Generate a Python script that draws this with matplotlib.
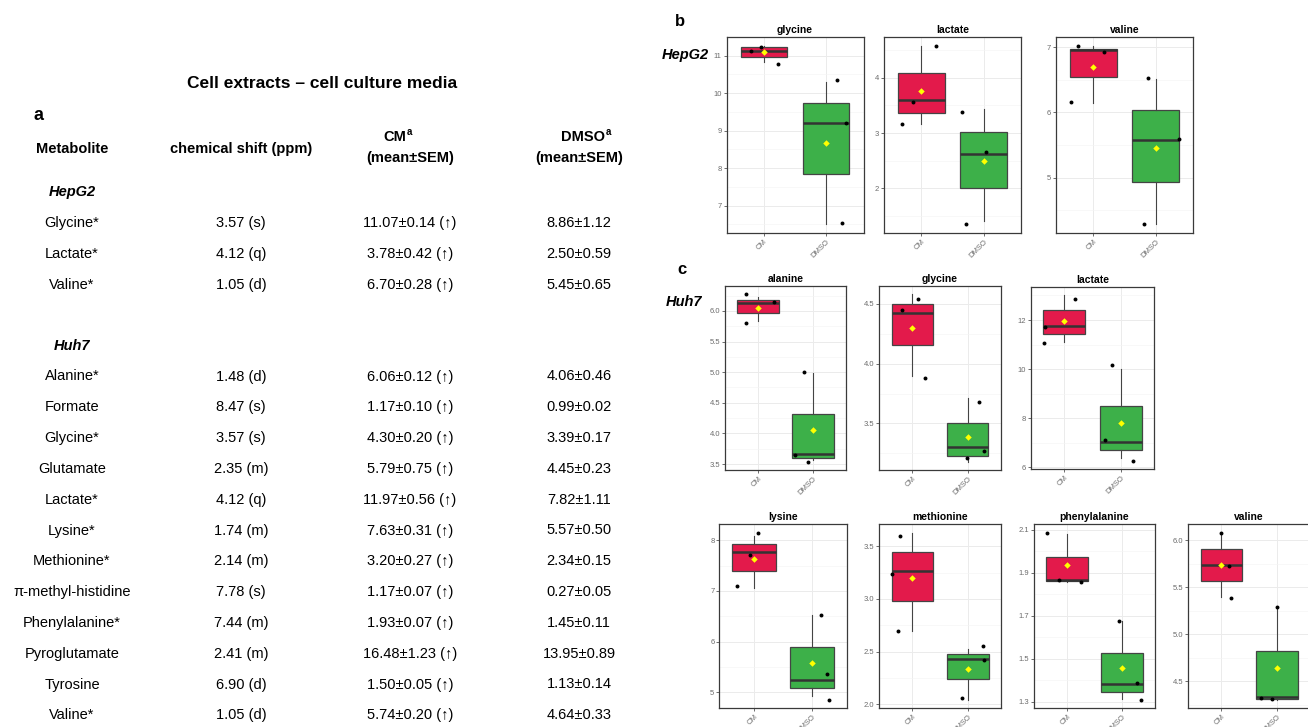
import matplotlib
matplotlib.use('Agg')
import matplotlib.pyplot as plt
from matplotlib.ticker import FixedLocator
import numpy as np

plt.rcParams['font.family'] = ['Liberation Sans', 'DejaVu Sans']

W, H = 1308, 727

# ---------------- table (a) ----------------
hepg2_names = ['Glycine*', 'Lactate*', 'Valine*']
hepg2_shift = ['3.57 (s)', '4.12 (q)', '1.05 (d)']
hepg2_cm_mean = [11.07, 3.78, 6.70]
hepg2_cm_sem = [0.14, 0.42, 0.28]
hepg2_dmso_mean = [8.86, 2.50, 5.45]
hepg2_dmso_sem = [1.12, 0.59, 0.65]

huh7_names = ['Alanine*', 'Formate', 'Glycine*', 'Glutamate', 'Lactate*', 'Lysine*',
              'Methionine*', 'π-methyl-histidine', 'Phenylalanine*', 'Pyroglutamate',
              'Tyrosine', 'Valine*']
huh7_shift = ['1.48 (d)', '8.47 (s)', '3.57 (s)', '2.35 (m)', '4.12 (q)', '1.74 (m)',
              '2.14 (m)', '7.78 (s)', '7.44 (m)', '2.41 (m)', '6.90 (d)', '1.05 (d)']
huh7_cm_mean = [6.06, 1.17, 4.30, 5.79, 11.97, 7.63, 3.20, 1.17, 1.93, 16.48, 1.50, 5.74]
huh7_cm_sem = [0.12, 0.10, 0.20, 0.75, 0.56, 0.31, 0.27, 0.07, 0.07, 1.23, 0.05, 0.20]
huh7_dmso_mean = [4.06, 0.99, 3.39, 4.45, 7.82, 5.57, 2.34, 0.27, 1.45, 13.95, 1.13, 4.64]
huh7_dmso_sem = [0.46, 0.02, 0.17, 0.23, 1.11, 0.50, 0.15, 0.05, 0.11, 0.89, 0.14, 0.33]

# ---------------- box plots (b: HepG2, c: Huh7) ----------------
panel_titles = ['glycine', 'lactate', 'valine',
                'alanine', 'glycine', 'lactate',
                'lysine', 'methionine', 'phenylalanine', 'valine']

cm_q1 = [10.96, 3.37, 6.55, 5.97, 4.16, 11.43, 7.40, 2.98, 1.861, 5.57]
cm_med = [11.12, 3.60, 6.95, 6.13, 4.42, 11.74, 7.76, 3.27, 1.865, 5.74]
cm_q3 = [11.22, 4.09, 6.98, 6.18, 4.50, 12.40, 7.93, 3.45, 1.972, 5.91]
cm_lo = [10.82, 3.16, 6.15, 5.83, 3.90, 11.12, 7.05, 2.70, 1.858, 5.40]
cm_hi = [11.26, 4.58, 7.02, 6.23, 4.58, 13.02, 8.09, 3.63, 2.081, 6.07]
cm_avg = [11.09, 3.77, 6.70, 6.05, 4.30, 11.97, 7.63, 3.20, 1.935, 5.74]
cm_pts = [[11.13, 11.24, 10.78], [3.16, 3.56, 4.58], [6.16, 7.02, 6.93],
          [6.27, 6.14, 5.80], [4.45, 4.54, 3.88], [11.73, 12.85, 11.07],
          [7.10, 7.71, 8.15], [3.60, 3.24, 2.70], [2.087, 1.868, 1.857],
          [6.08, 5.73, 5.39]]
cm_jit = [[-0.20, -0.05, 0.22], [-0.31, -0.13, 0.23], [-0.36, -0.24, 0.17],
          [-0.21, 0.29, -0.21], [-0.19, 0.10, 0.22], [-0.34, 0.18, -0.36],
          [-0.30, -0.07, 0.07], [-0.22, -0.37, -0.27], [-0.36, -0.15, 0.25],
          [0.00, 0.13, 0.18]]

dmso_q1 = [7.84, 2.01, 4.93, 3.60, 3.23, 6.72, 5.08, 2.24, 1.347, 4.31]
dmso_med = [9.20, 2.62, 5.58, 3.67, 3.30, 7.05, 5.24, 2.43, 1.383, 4.33]
dmso_q3 = [9.74, 3.02, 6.04, 4.32, 3.50, 8.50, 5.89, 2.48, 1.528, 4.82]
dmso_lo = [6.51, 1.41, 4.29, 3.56, 3.18, 6.40, 4.92, 2.04, 1.313, 4.30]
dmso_hi = [10.29, 3.44, 6.51, 4.98, 3.71, 9.99, 6.52, 2.52, 1.676, 5.29]
dmso_avg = [8.67, 2.49, 5.46, 4.06, 3.39, 7.82, 5.57, 2.33, 1.456, 4.64]
dmso_pts = [[10.36, 9.20, 6.53], [3.38, 2.66, 1.35], [6.53, 5.59, 4.29],
            [5.01, 3.65, 3.54], [3.68, 3.21, 3.27], [10.15, 7.11, 6.26],
            [6.52, 5.36, 4.85], [2.55, 2.42, 2.06], [1.674, 1.386, 1.308],
            [5.29, 4.32, 4.31]]
dmso_jit = [[0.17, 0.32, 0.26], [-0.35, 0.04, -0.28], [-0.13, 0.37, -0.19],
            [-0.16, -0.32, -0.09], [0.20, -0.01, 0.30], [-0.15, -0.28, 0.22],
            [0.16, 0.26, 0.29], [0.28, 0.30, -0.10], [-0.05, 0.27, 0.35],
            [0.00, -0.29, -0.09]]

panel_ticks = [[7, 8, 9, 10, 11], [2, 3, 4], [5, 6, 7],
               [3.5, 4.0, 4.5, 5.0, 5.5, 6.0], [3.5, 4.0, 4.5], [6, 8, 10, 12],
               [5, 6, 7, 8], [2.0, 2.5, 3.0, 3.5], [1.3, 1.5, 1.7, 1.9, 2.1],
               [4.5, 5.0, 5.5, 6.0]]
group_labels = ['CM', 'DMSO']

# panel rectangles in pixels: left, top, right, bottom
panel_px = [(726.5, 37, 863.5, 233), (884, 37, 1021, 233), (1056, 37, 1193, 233),
            (725, 286, 846, 470), (879.3, 286, 1000.7, 470), (1030.7, 286.7, 1154.3, 469.3),
            (719.3, 524.3, 846.7, 708.3), (879.3, 524.3, 1001, 708.3),
            (1034, 524.3, 1155, 708.3), (1188.3, 524.3, 1310, 708.3)]

RED = '#E31A4B'
GREEN = '#3DB049'
EDGE = '#333333'


def px_rect(l, t, r, b):
    return [l / W, 1 - b / H, (r - l) / W, (b - t) / H]


fig = plt.figure(figsize=(W / 100, H / 100), dpi=100)
fig.patch.set_facecolor('white')

# full-figure overlay in pixel coordinates for the table and labels
tx = fig.add_axes([0, 0, 1, 1])
tx.set_xlim(0, W)
tx.set_ylim(H, 0)
tx.axis('off')

tx.text(322, 83, 'Cell extracts – cell culture media', fontsize=12.5,
        fontweight='bold', ha='center', va='center')
tx.text(34, 116, 'a', fontsize=13, fontweight='bold', ha='left', va='center')

col_x = [72, 241, 410, 579]
hdr = dict(fontsize=10.5, fontweight='bold', ha='center', va='center')
tx.text(col_x[0], 149, 'Metabolite', **hdr)
tx.text(col_x[1], 149, 'chemical shift (ppm)', **hdr)
tx.text(406, 137, 'CM', fontsize=10.5, fontweight='bold', ha='right', va='center')
tx.text(407, 132, 'a', fontsize=7, fontweight='bold', ha='left', va='center')
tx.text(col_x[2], 158, '(mean±SEM)', **hdr)
tx.text(605, 137, 'DMSO', fontsize=10.5, fontweight='bold', ha='right', va='center')
tx.text(606, 132, 'a', fontsize=7, fontweight='bold', ha='left', va='center')
tx.text(col_x[3], 158, '(mean±SEM)', **hdr)

cell = dict(fontsize=10.5, ha='center', va='center')


def table_block(y0, title, names, shifts, cm_m, cm_s, dm_m, dm_s):
    tx.text(col_x[0], y0, title, fontsize=10.5, fontweight='bold',
            fontstyle='italic', ha='center', va='center')
    for k in range(len(names)):
        y = y0 + 31 + k * 30.8
        tx.text(col_x[0], y, names[k], **cell)
        tx.text(col_x[1], y, shifts[k], **cell)
        tx.text(col_x[2], y, f'{cm_m[k]:.2f}±{cm_s[k]:.2f} (↑)', **cell)
        tx.text(col_x[3], y, f'{dm_m[k]:.2f}±{dm_s[k]:.2f}', **cell)


table_block(192, 'HepG2', hepg2_names, hepg2_shift, hepg2_cm_mean, hepg2_cm_sem,
            hepg2_dmso_mean, hepg2_dmso_sem)
table_block(345.5, 'Huh7', huh7_names, huh7_shift, huh7_cm_mean, huh7_cm_sem,
            huh7_dmso_mean, huh7_dmso_sem)

tx.text(680, 21, 'b', fontsize=12, fontweight='bold', ha='center', va='center')
tx.text(682, 270, 'c', fontsize=12, fontweight='bold', ha='center', va='center')
tx.text(685, 55, 'HepG2', fontsize=10.5, fontweight='bold', fontstyle='italic',
        ha='center', va='center')
tx.text(684, 302, 'Huh7', fontsize=10.5, fontweight='bold', fontstyle='italic',
        ha='center', va='center')


def draw_panel(ax, i):
    stats = [dict(med=cm_med[i], q1=cm_q1[i], q3=cm_q3[i],
                  whislo=cm_lo[i], whishi=cm_hi[i], fliers=[]),
             dict(med=dmso_med[i], q1=dmso_q1[i], q3=dmso_q3[i],
                  whislo=dmso_lo[i], whishi=dmso_hi[i], fliers=[])]
    bp = ax.bxp(stats, positions=[1, 2], widths=0.75, patch_artist=True,
                showcaps=False,
                boxprops=dict(edgecolor='#444444', linewidth=0.9),
                medianprops=dict(color=EDGE, linewidth=1.8),
                whiskerprops=dict(color='#444444', linewidth=0.8))
    for patch, c in zip(bp['boxes'], [RED, GREEN]):
        patch.set_facecolor(c)

    ax.scatter(1 + np.array(cm_jit[i]), cm_pts[i], s=8, color='black',
               linewidths=0, zorder=4)
    ax.scatter(2 + np.array(dmso_jit[i]), dmso_pts[i], s=8, color='black',
               linewidths=0, zorder=4)
    ax.scatter([1, 2], [cm_avg[i], dmso_avg[i]], marker='D', s=11,
               color='#FFFF00', linewidths=0, zorder=5)

    # y range: data extent with 5 % padding
    vals = cm_pts[i] + dmso_pts[i] + [cm_lo[i], cm_hi[i], dmso_lo[i], dmso_hi[i]]
    lo, hi = min(vals), max(vals)
    pad = (hi - lo) * 0.05
    ax.set_ylim(lo - pad, hi + pad)
    ax.set_xlim(0.4, 2.6)

    ticks = panel_ticks[i]
    step = ticks[1] - ticks[0]
    minors = [t - step / 2 for t in ticks] + [ticks[-1] + step / 2]
    ax.yaxis.set_major_locator(FixedLocator(ticks))
    ax.yaxis.set_minor_locator(FixedLocator(minors))
    if all(float(t).is_integer() for t in ticks):
        ax.set_yticklabels([f'{t:.0f}' for t in ticks])
    else:
        ax.set_yticklabels([f'{t:.1f}' for t in ticks])
    ax.set_xticks([1, 2])
    ax.set_xticklabels(group_labels, rotation=45, ha='right', rotation_mode='anchor')

    ax.set_axisbelow(True)
    ax.grid(which='major', color='#EBEBEB', linewidth=0.7)
    ax.grid(which='minor', axis='y', color='#F4F4F4', linewidth=0.4)
    ax.tick_params(which='major', length=2, width=0.5, color=EDGE,
                   labelsize=5.5, labelcolor='#6b6b6b', pad=1.5)
    ax.tick_params(which='minor', length=0)
    for sp in ax.spines.values():
        sp.set_color('#3a3a3a')
        sp.set_linewidth(0.9)
    ax.set_title(panel_titles[i], fontsize=7.5, fontweight='bold', pad=3)


for i, rect in enumerate(panel_px):
    ax = fig.add_axes(px_rect(*rect))
    draw_panel(ax, i)

fig.savefig('out.png', dpi=100, facecolor='white')
